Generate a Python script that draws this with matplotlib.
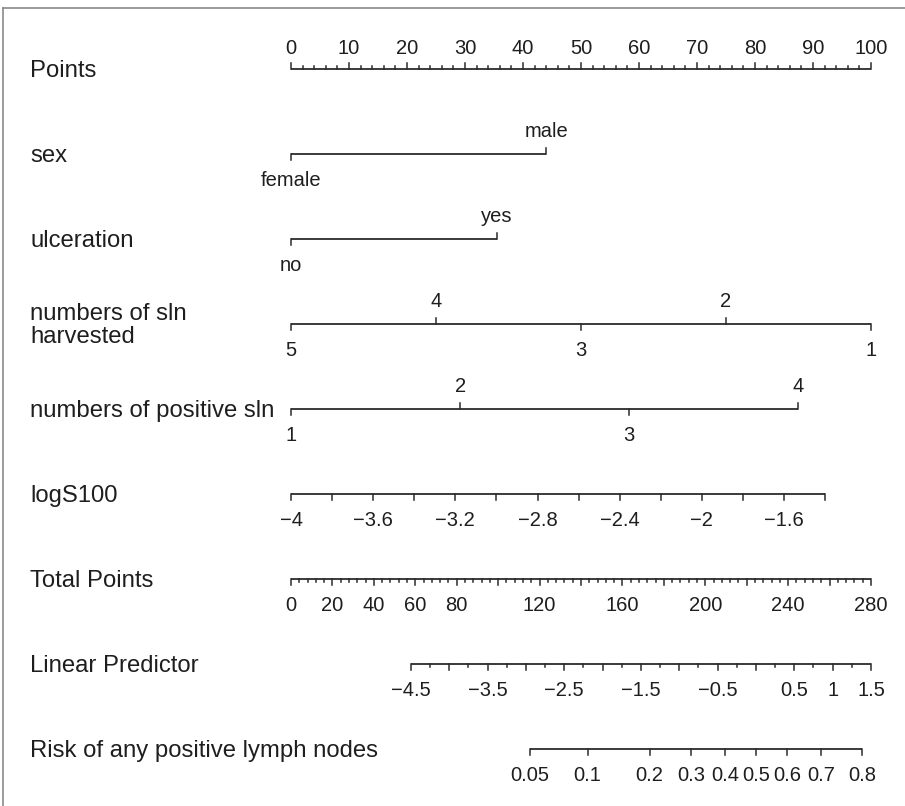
import matplotlib
matplotlib.use("Agg")
import matplotlib.pyplot as plt
import numpy as np
from matplotlib.lines import Line2D

plt.rcParams['font.family'] = ['Liberation Sans', 'DejaVu Sans']

row_names = ["Points", "sex", "ulceration", "numbers of sln\nharvested",
             "numbers of positive sln", "logS100", "Total Points",
             "Linear Predictor", "Risk of any positive lymph nodes"]

sex_levels = ["female", "male"]
sex_points = [0, 44]

ulc_levels = ["no", "yes"]
ulc_points = [0, 35.5]

harv_levels = ["5", "4", "3", "2", "1"]
harv_points = [0, 25, 50, 75, 100]

pos_levels = ["1", "2", "3", "4"]
pos_points = [0, 29.2, 58.3, 87.4]

logs_range = [-4.0, -1.4]
logs_points_range = [0, 92.1]
logs_ticks = np.round(np.arange(-4.0, -1.39, 0.2), 1)
logs_labels = [-4, -3.6, -3.2, -2.8, -2.4, -2, -1.6]

total_max = 280
total_labels = [0, 20, 40, 60, 80, 120, 160, 200, 240, 280]

lp_range = [-4.5, 1.5]
lp_total_range = [57.9, 280]
lp_labels = [-4.5, -3.5, -2.5, -1.5, -0.5, 0.5, 1, 1.5]

risk_ticks = [0.05, 0.1, 0.2, 0.3, 0.4, 0.5, 0.6, 0.7, 0.8]

# --- mise en page ---
W, H = 905, 806
X0, PX = 291, 5.8          # pixel du 0 points, pixels par point
Y0, DY = 69, 85            # pixel de la 1re ligne, écart entre lignes
LINE = '#2b2b2b'
TICK = 6 / DY

fig = plt.figure(figsize=(W / 100, H / 100), dpi=100)
ax = fig.add_axes([0, 0, 1, 1])
ax.set_xlim(-X0 / PX, (W - X0) / PX)
ax.set_ylim((H - Y0) / DY, -Y0 / DY)
ax.axis('off')

lab_fs = 17.2
tick_fs = 14.5


def fmt(v):
    s = f"{v:g}"
    return s.replace('-', '\u2212')


def scale(row, xs, lens, sides, labels, up_off=23):
    """xs en points; sides: +1 vers le haut, -1 vers le bas, labels: (x, texte, côté)"""
    ax.plot([min(xs), max(xs)], [row, row], color=LINE, lw=1.3, solid_capstyle='butt')
    for x, l, s in zip(xs, lens, sides):
        ax.plot([x, x], [row, row - s * l], color=LINE, lw=1.1)
    for x, t, s in labels:
        off = up_off if s > 0 else -26
        ax.annotate(t, xy=(x, row), xytext=(0, off), textcoords='offset pixels',
                    ha='center', va='center', fontsize=tick_fs, color='#1e1e1e')


# noms des lignes
for i, name in enumerate(row_names):
    ax.text(30 / W, i + 1.5 / DY, name, transform=ax.get_yaxis_transform(), ha='left',
            va='center', fontsize=lab_fs, color='#1e1e1e', linespacing=1.1)

# Points
pts = np.arange(0, 101, 2)
scale(0, pts, [TICK if p % 10 == 0 else TICK / 2 for p in pts], [1] * len(pts),
      [(p, str(p), 1) for p in range(0, 101, 10)], up_off=21)

# variables catégorielles
for row, levels, points in [(1, sex_levels, sex_points), (2, ulc_levels, ulc_points),
                            (3, harv_levels, harv_points), (4, pos_levels, pos_points)]:
    sides = [-1 if k % 2 == 0 else 1 for k in range(len(levels))]
    scale(row, points, [TICK] * len(points), sides,
          [(p, l, s) for p, l, s in zip(points, levels, sides)])

# logS100
lx = np.interp(logs_ticks, logs_range, logs_points_range)
scale(5, lx, [TICK] * len(lx), [-1] * len(lx),
      [(np.interp(v, logs_range, logs_points_range), fmt(v), -1) for v in logs_labels])

# Total Points
tp = np.arange(0, total_max + 1, 4)
tx = tp * 100 / total_max
scale(6, tx, [TICK if v % 20 == 0 else TICK / 2 for v in tp], [-1] * len(tp),
      [(v * 100 / total_max, str(v), -1) for v in total_labels])


def lp_to_x(v):
    return np.interp(v, lp_range, lp_total_range) * 100 / total_max


# Linear Predictor
lpt = np.arange(lp_range[0], lp_range[1] + 0.01, 0.25)
scale(7, lp_to_x(lpt), [TICK if abs(v * 2 - round(v * 2)) < 1e-6 else TICK / 2 for v in lpt],
      [-1] * len(lpt), [(lp_to_x(v), fmt(v), -1) for v in lp_labels])

# Risk
rl = np.log(np.array(risk_ticks) / (1 - np.array(risk_ticks)))
rx = lp_to_x(rl)
scale(8, rx, [TICK] * len(rx), [-1] * len(rx),
      [(x, f"{r:g}", -1) for x, r in zip(rx, risk_ticks)])

# cadre (haut et gauche)
fig.add_artist(Line2D([3 / W, 1], [1 - 8 / H, 1 - 8 / H], color='#8a8a8a', lw=1.2))
fig.add_artist(Line2D([3 / W, 3 / W], [0, 1 - 8 / H], color='#8a8a8a', lw=1.2))

fig.savefig('out.png', dpi=100)
